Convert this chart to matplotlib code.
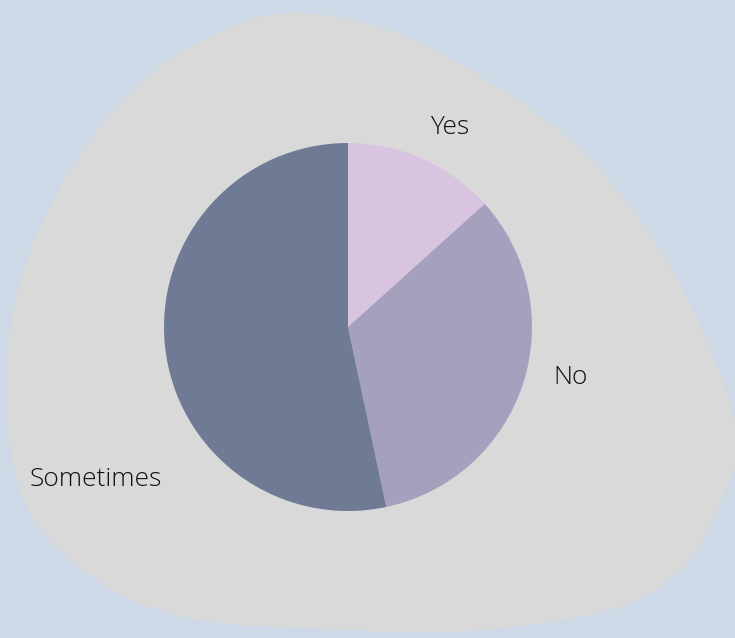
import numpy as np
import matplotlib.pyplot as plt
from matplotlib.path import Path
from matplotlib.patches import PathPatch

labels = ['Yes', 'No', 'Sometimes']
values = [2, 5, 8]
colors = ['#D9C4E0', '#A5A0BE', '#6F7B95']

W, H = 735, 638

fig = plt.figure(figsize=(W / 100, H / 100), dpi=100)
fig.patch.set_facecolor('#CDD9E6')
ax = fig.add_axes([0, 0, 1, 1])
ax.set_xlim(0, W)
ax.set_ylim(0, H)
ax.set_aspect('equal')
ax.axis('off')

# background blob (pixel coords, y from top)
blob = np.array([
    (325, 15), (425, 46), (563, 134), (656, 244), (717, 366), (737, 447),
    (717, 509), (680, 570), (609, 610), (469, 631), (328, 629), (188, 618),
    (94, 578), (28, 509), (7, 407), (19, 285), (72, 168), (148, 76), (245, 22),
], dtype=float)
blob[:, 1] = H - blob[:, 1]
# smooth closed curve through points (Catmull-Rom)
n = len(blob)
pts = []
for i in range(n):
    p0, p1, p2, p3 = blob[i - 1], blob[i], blob[(i + 1) % n], blob[(i + 2) % n]
    for t in np.linspace(0, 1, 20, endpoint=False):
        t2, t3 = t * t, t * t * t
        pts.append(0.5 * ((2 * p1) + (-p0 + p2) * t + (2 * p0 - 5 * p1 + 4 * p2 - p3) * t2
                          + (-p0 + 3 * p1 - 3 * p2 + p3) * t3))
pts.append(pts[0])
codes = [Path.MOVETO] + [Path.LINETO] * (len(pts) - 2) + [Path.CLOSEPOLY]
ax.add_patch(PathPatch(Path(pts, codes), facecolor='#D9D9D9', edgecolor='none', zorder=0))

ax.pie(values, colors=colors, startangle=90, counterclock=False,
       center=(348, H - 327), radius=184, frame=True,
       wedgeprops=dict(linewidth=0))
ax.set_xlim(0, W)
ax.set_ylim(0, H)
ax.axis('off')

label_pos = [(450, 127), (571, 378), (96, 479)]
for lab, (x, y) in zip(labels, label_pos):
    ax.text(x, H - y, lab, ha='center', va='center', fontsize=19,
            family='Open Sans', fontweight='light', color='#111111')

plt.savefig('out.png', dpi=100, facecolor=fig.get_facecolor())
